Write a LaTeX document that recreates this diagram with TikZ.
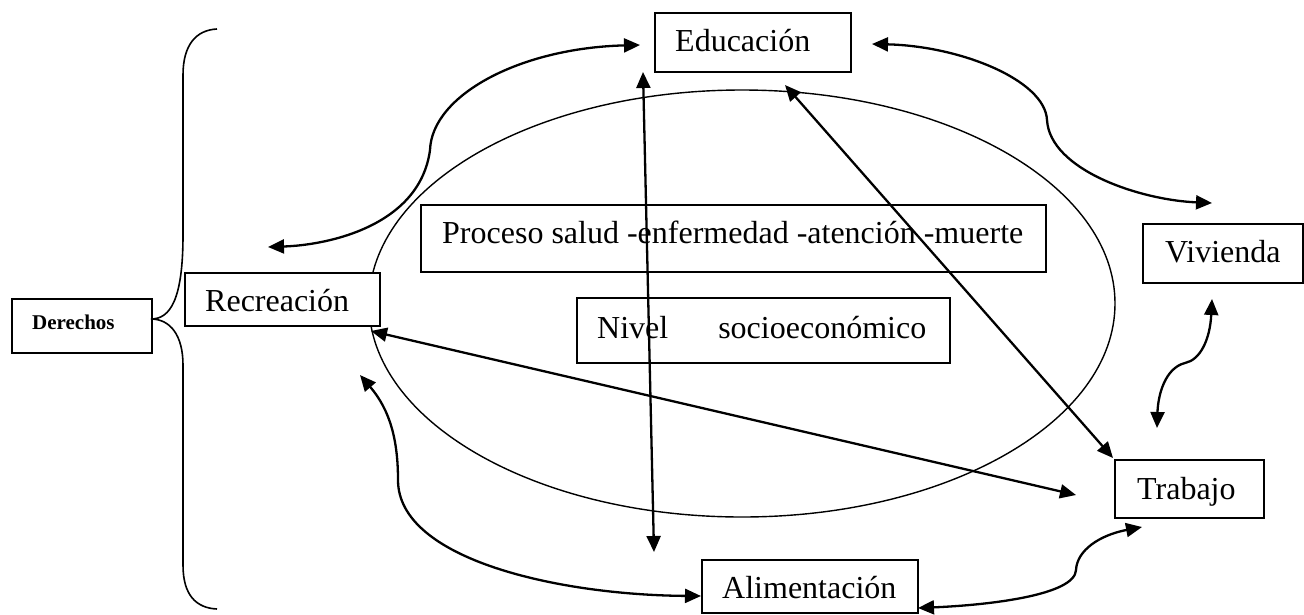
\documentclass[tikz,border=0pt]{standalone}
\usepackage{fontspec}
\setmainfont{Liberation Serif}
\usetikzlibrary{arrows.meta}
\begin{document}
\begin{tikzpicture}[x=1pt,y=-1pt,
  box/.style={draw, line width=1.7pt, fill=white, inner sep=0pt, anchor=north west},
  lbl/.style={inner sep=0pt, anchor=base west, font=\fontsize{32}{36}\selectfont},
  smalllbl/.style={inner sep=0pt, anchor=base west, font=\fontsize{21}{24}\selectfont\bfseries},
  conn/.style={line width=2.3pt, {Triangle[length=16pt,width=14pt]}-{Triangle[length=16pt,width=14pt]}},
  thin/.style={line width=1.4pt},
  ]
\useasboundingbox (0,0) rectangle (1304,614);

% ellipse
\draw[thin] (742,303.5) ellipse [x radius=373, y radius=213.5];

% boxes
\node[box, minimum width=196pt, minimum height=59pt] (edu) at (654,12) {};
\node[box, minimum width=195pt, minimum height=53pt] (rec) at (184,272) {};
\node[box, minimum width=160pt, minimum height=59pt] (viv) at (1142,223) {};
\node[box, minimum width=149pt, minimum height=58pt] (tra) at (1114,459) {};
\node[box, minimum width=216pt, minimum height=53pt] (ali) at (701,559) {};
\node[box, minimum width=625pt, minimum height=67pt] (pro) at (420,204) {};
\node[box, minimum width=373pt, minimum height=65pt] (niv) at (576,297) {};
\node[box, minimum width=140pt, minimum height=54pt] (der) at (11,298) {};

% labels
\node[lbl] (eduT) at (675,51) {Educación};
\node[lbl] (recT) at (205,311) {Recreación};
\node[lbl] (vivT) at (1165,262) {Vivienda};
\node[lbl] (traT) at (1137,499) {Trabajo};
\node[lbl] (aliT) at (722,598) {Alimentación};
\node[lbl] (proT) at (442,243) {Proceso salud -enfermedad -atención -muerte};
\node[lbl] (nivT) at (597,338) {Nivel\hspace{50pt}socioeconómico};
\node[smalllbl] (derT) at (32,329) {Derechos};

% brace
\coordinate (cusp) at (151,319);
\draw[line width=1.6pt] (217,29) .. controls (196,30) and (183,45) .. (183,75)
  -- (183,235) .. controls (183,300) and (170,319) .. (cusp)
  .. controls (170,319) and (183,335) .. (183,365)
  -- (183,565) .. controls (183,595) and (196,608) .. (217,609);

% connector end points
\coordinate (eduL) at (640,45);
\coordinate (recU) at (268,247);
\coordinate (eduR) at (872,44);
\coordinate (vivU) at (1212,203);
\coordinate (vivD) at (1212,299);
\coordinate (traU) at (1157,428);
\coordinate (traD) at (1142,527);
\coordinate (aliR) at (918,608);
\coordinate (recD) at (360,375);
\coordinate (aliL) at (701,596);
\coordinate (eduB) at (643,72);
\coordinate (aliT) at (654,552);
\coordinate (eduBR) at (785,85);
\coordinate (traNW) at (1113,458);
\coordinate (recBR) at (371,331);
\coordinate (traW) at (1076,495);

% curved connectors
\draw[conn] (recU) .. controls (330,245) and (420,225) .. (430,150)
  .. controls (432,95) and (520,48) .. (eduL);
\draw[conn] (eduR) .. controls (960,46) and (1045,80) .. (1047,120)
  .. controls (1050,170) and (1140,200) .. (vivU);
\draw[conn] (vivD) .. controls (1210,340) and (1200,360) .. (1185,363)
  .. controls (1165,368) and (1158,395) .. (traU);
\draw[conn] (traD) .. controls (1100,535) and (1077,550) .. (1076,570)
  .. controls (1075,595) and (990,605) .. (aliR);
\draw[conn] (recD) .. controls (390,410) and (398,440) .. (398,480)
  .. controls (398,560) and (560,595) .. (aliL);

% straight connectors
\draw[conn] (eduB) -- (aliT);
\draw[conn] (eduBR) -- (traNW);
\draw[conn] (recBR) -- (traW);
\end{tikzpicture}
\end{document}
